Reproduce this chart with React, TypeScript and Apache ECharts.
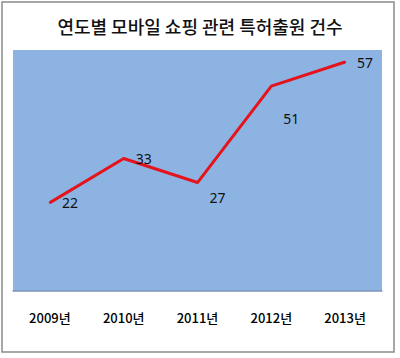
import React, { useEffect, useRef } from "react";
import * as echarts from "echarts";

const title = "연도별 모바일 쇼핑 관련 특허출원 건수";
const categories = ["2009년", "2010년", "2011년", "2012년", "2013년"];
const values = [22, 33, 27, 51, 57];
const labelOffsets: [number, number][] = [
  [0, 0],
  [0, 0],
  [0, 15],
  [0, 32],
  [0, 0],
];

export default function App() {
  const ref = useRef<HTMLDivElement>(null);
  useEffect(() => {
    if (!ref.current) return;
    const chart = echarts.init(ref.current, undefined, { renderer: "svg" });
    chart.setOption({
      animation: false,
      backgroundColor: "#ffffff",
      title: {
        text: title,
        left: "center",
        top: 12,
        textStyle: {
          fontFamily: "Noto Sans CJK KR",
          fontSize: 18,
          fontWeight: 500,
          color: "#111111",
        },
      },
      graphic: [
        {
          type: "rect",
          shape: { x: 2, y: 2, width: 392, height: 350 },
          style: { fill: "none", stroke: "#8a8a8a", lineWidth: 1.5 },
          silent: true,
        },
      ],
      grid: {
        left: 13,
        top: 50,
        width: 369,
        height: 241,
        show: true,
        backgroundColor: "#8DB3E2",
        borderWidth: 0,
      },
      xAxis: {
        type: "category",
        data: categories,
        boundaryGap: true,
        axisLine: { show: true, lineStyle: { color: "#7F96B8", width: 1.5 } },
        axisTick: { show: false },
        axisLabel: {
          margin: 20,
          fontFamily: "Noto Sans CJK KR",
          fontSize: 13,
          fontWeight: 500,
          color: "#000000",
        },
      },
      yAxis: {
        type: "value",
        min: 0,
        max: 60,
        show: false,
        splitLine: { show: false },
      },
      series: [
        {
          type: "line",
          data: values.map((v, i) => ({
            value: v,
            label: { offset: labelOffsets[i] },
          })),
          showSymbol: true,
          symbol: "circle",
          symbolSize: 2,
          itemStyle: { color: "#E5141C", borderWidth: 0 },
          lineStyle: { color: "#E5141C", width: 3 },
          label: {
            show: true,
            position: "right",
            distance: 11,
            fontFamily: "Noto Sans",
            fontSize: 14,
            color: "#111111",
          },
        },
      ],
    });
    return () => chart.dispose();
  }, []);
  return (
    <div
      ref={ref}
      style={{ position: "fixed", left: 0, top: 0, width: 400, height: 358 }}
    />
  );
}
